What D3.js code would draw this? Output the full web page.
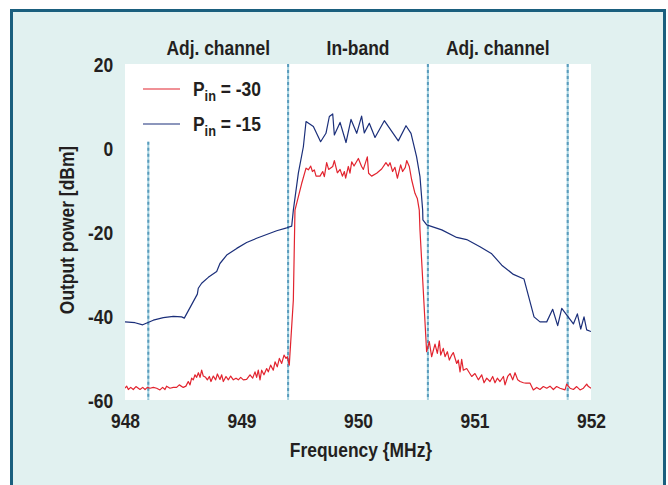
<!DOCTYPE html>
<html>
<head>
<meta charset="utf-8">
<script src="https://cdn.jsdelivr.net/npm/d3@7"></script>
<style>
  html, body { margin: 0; padding: 0; background: #ffffff; }
  svg text {
    font-family: "Liberation Sans Narrow", "Arial Narrow", "Liberation Sans", sans-serif;
    font-weight: bold;
    fill: #231f20;
  }
</style>
</head>
<body>
<svg id="chart" width="668" height="485"></svg>
<script>
var WIDTH = 668;
var HEIGHT = 485;
var PLOT = { left: 125, right: 591, top: 64, bottom: 400 };
var FONT_SIZE = 20.5;
var CONDENSE = 0.85; // the original type is a tall condensed grotesque

var X_TICKS = [948, 949, 950, 951, 952];
var Y_TICKS = [20, 0, -20, -40, -60];

// channel boundaries (MHz) and where each dashed line starts (dBm)
var BOUNDARIES = [948.2, 949.4, 950.6, 951.8];
var BOUNDARY_TOPS = [1.5, 20, 20, 20];

var REGION_NAMES = ['Adj. channel', 'In-band', 'Adj. channel'];
var REGION_CENTERS = [948.8, 950.0, 951.2];

var SERIES_PIN = ['-30', '-15'];
var SERIES_COLORS = ['#e2242f', '#1b2f7a'];

// Pin = -30
var redFreq = [
  948.000, 948.014, 948.029, 948.049, 948.071, 948.094, 948.129, 948.152, 948.172, 948.192,
  948.215, 948.243, 948.272, 948.300, 948.323, 948.343, 948.357, 948.386, 948.415, 948.443,
  948.466, 948.500, 948.523, 948.543, 948.558, 948.572, 948.586, 948.601, 948.615, 948.630,
  948.644, 948.658, 948.672, 948.692, 948.707, 948.724, 948.738, 948.758, 948.778, 948.793,
  948.815, 948.830, 948.844, 948.867, 948.887, 948.907, 948.930, 948.953, 948.973, 948.993,
  949.016, 949.044, 949.073, 949.096, 949.116, 949.130, 949.144, 949.159, 949.173, 949.193,
  949.216, 949.230, 949.250, 949.273, 949.288, 949.307, 949.325, 949.345, 949.365, 949.382,
  949.393, 949.410, 949.445, 949.459, 949.517, 949.554, 949.574, 949.594, 949.609, 949.625,
  949.640, 949.674, 949.697, 949.711, 949.731, 949.748, 949.783, 949.797, 949.823, 949.846,
  949.866, 949.883, 949.894, 949.917, 949.931, 949.946, 949.966, 950.003, 950.031, 950.046,
  950.080, 950.091, 950.117, 950.160, 950.203, 950.240, 950.260, 950.275, 950.297, 950.317,
  950.338, 950.366, 950.383, 950.406, 950.418, 950.440, 950.460, 950.489, 950.509, 950.526,
  950.532, 950.589, 950.612, 950.632, 950.661, 950.681, 950.698, 950.710, 950.732, 950.747,
  950.767, 950.784, 950.804, 950.818, 950.847, 950.861, 950.876, 950.890, 950.904, 950.933,
  950.976, 951.004, 951.033, 951.062, 951.082, 951.105, 951.133, 951.156, 951.176, 951.196,
  951.219, 951.248, 951.262, 951.285, 951.305, 951.328, 951.348, 951.371, 951.391, 951.420,
  951.442, 951.477, 951.505, 951.534, 951.562, 951.591, 951.620, 951.648, 951.677, 951.705,
  951.734, 951.777, 951.791, 951.820, 951.849, 951.877, 951.906, 951.935, 951.963, 951.978,
  952.000
];
var redDbm = [
  -57.2, -56.7, -57.5, -57.0, -57.5, -56.8, -57.5, -57.0, -57.5, -57.0,
  -57.2, -57.0, -57.2, -57.6, -57.0, -57.5, -56.7, -57.2, -57.0, -57.0,
  -56.4, -57.0, -56.7, -55.6, -56.4, -54.8, -55.2, -54.0, -54.6, -53.5,
  -54.6, -52.9, -54.3, -54.6, -55.2, -54.4, -55.6, -54.3, -55.2, -53.8,
  -55.1, -54.0, -55.6, -54.4, -55.2, -54.3, -55.2, -54.8, -55.2, -54.6,
  -55.2, -55.1, -54.0, -54.8, -53.3, -54.6, -52.9, -55.2, -52.9, -54.0,
  -52.5, -53.3, -51.7, -52.9, -50.9, -52.1, -50.1, -51.3, -49.3, -50.1,
  -49.7, -51.7, -36.2, -14.8, -8.4, -4.8, -5.2, -4.3, -5.6, -5.2,
  -6.7, -6.7, -5.6, -6.8, -3.5, -5.1, -4.4, -3.0, -5.9, -5.1,
  -6.7, -5.6, -7.2, -4.4, -6.0, -3.3, -4.3, -2.5, -4.4, -5.1,
  -2.1, -6.0, -6.7, -6.0, -5.0, -3.5, -4.3, -3.5, -5.6, -4.6,
  -7.2, -4.0, -5.6, -4.6, -3.0, -4.4, -7.5, -10.8, -12.0, -14.8,
  -19.5, -48.5, -46.1, -49.7, -46.7, -48.9, -45.9, -49.3, -47.7, -49.7,
  -48.5, -50.5, -49.3, -48.7, -51.3, -50.5, -53.3, -50.3, -52.9, -52.5,
  -54.4, -53.7, -55.2, -54.0, -55.9, -54.8, -55.6, -54.4, -55.9, -54.8,
  -55.6, -54.4, -56.4, -54.4, -53.7, -55.2, -53.5, -55.2, -55.6, -55.9,
  -56.0, -56.0, -57.6, -57.0, -57.5, -56.8, -57.2, -56.7, -57.5, -56.8,
  -57.2, -57.6, -56.2, -57.2, -57.5, -56.8, -57.6, -57.2, -56.2, -56.8,
  -57.2
];

// Pin = -15
var blueFreq = [
  948.000, 948.086, 948.152, 948.243, 948.329, 948.415, 948.486, 948.509, 948.621, 948.629,
  948.658, 948.715, 948.787, 948.815, 948.873, 948.959, 949.044, 949.130, 949.216, 949.302,
  949.388, 949.431, 949.445, 949.488, 949.531, 949.554, 949.617, 949.679, 949.725, 949.754,
  949.783, 949.797, 949.846, 949.897, 949.940, 949.989, 950.031, 950.054, 950.097, 950.146,
  950.226, 950.346, 950.412, 950.455, 950.503, 950.532, 950.555, 950.557, 950.590, 950.719,
  950.847, 950.933, 951.047, 951.148, 951.234, 951.334, 951.425, 951.511, 951.562, 951.620,
  951.671, 951.714, 951.749, 951.849, 951.883, 951.912, 951.940, 951.963, 952.000
];
var blueDbm = [
  -41.4, -41.6, -42.1, -41.0, -40.4, -40.1, -40.2, -40.5, -34.8, -33.4,
  -32.2, -30.8, -29.4, -27.5, -25.5, -23.9, -22.5, -21.5, -20.6, -19.7,
  -19.0, -18.6, -14.8, -6.0, 0.3, 6.3, 5.1, 1.5, 3.5, 7.5,
  8.1, 3.1, 6.1, 1.3, 6.8, 3.5, 7.6, 3.6, 5.9, 2.5,
  6.5, 1.7, 5.3, 3.5, -2.1, -6.8, -14.8, -17.1, -18.3, -19.5,
  -21.3, -21.8, -23.5, -25.2, -27.9, -30.1, -31.2, -40.2, -41.4, -41.4,
  -38.4, -42.3, -38.2, -41.9, -39.5, -43.1, -40.2, -43.3, -43.7
];

var svg = d3.select('#chart');

// place a text at (x, y), squeezed horizontally like the printed type
function placeText(sel, x, y, rotate) {
  return sel
    .attr('transform', 'translate(' + x + ', ' + y + ')' +
      (rotate ? ' rotate(' + rotate + ')' : '') +
      ' scale(' + CONDENSE + ', 1)')
    .attr('font-size', FONT_SIZE);
}

// panel background and frame
svg.append('rect')
  .attr('x', 0).attr('y', 0)
  .attr('width', WIDTH).attr('height', HEIGHT)
  .attr('fill', '#ffffff');

svg.append('rect')
  .attr('x', 11.5).attr('y', 10.5)
  .attr('width', 653).attr('height', 500)
  .attr('fill', '#e1f1f0')
  .attr('stroke', '#1a5f7e')
  .attr('stroke-width', 3);

var xScale = d3.scaleLinear().domain([948, 952]).range([PLOT.left, PLOT.right]);
var yScale = d3.scaleLinear().domain([-60, 20]).range([PLOT.bottom, PLOT.top]);

svg.append('rect')
  .attr('x', PLOT.left).attr('y', PLOT.top)
  .attr('width', PLOT.right - PLOT.left).attr('height', PLOT.bottom - PLOT.top)
  .attr('fill', '#ffffff');

svg.append('clipPath').attr('id', 'plot-clip')
  .append('rect')
  .attr('x', PLOT.left).attr('y', PLOT.top)
  .attr('width', PLOT.right - PLOT.left).attr('height', PLOT.bottom - PLOT.top);

// axes: labels only, no domain or tick marks; plain hyphen for minus
var xAxis = d3.axisBottom(xScale).tickValues(X_TICKS).tickFormat(d => String(d)).tickSize(0).tickPadding(13);
var yAxis = d3.axisLeft(yScale).tickValues(Y_TICKS).tickFormat(d => String(d)).tickSize(0).tickPadding(14);

var xAxisGroup = svg.append('g')
  .attr('transform', 'translate(0, ' + PLOT.bottom + ')')
  .call(xAxis);
var yAxisGroup = svg.append('g')
  .attr('transform', 'translate(' + PLOT.left + ', 0)')
  .call(yAxis);

[xAxisGroup, yAxisGroup].forEach(g => {
  g.select('.domain').remove();
  g.selectAll('text')
    .attr('font-size', FONT_SIZE)
    .attr('font-family', null)
    .attr('fill', '#231f20')
    .attr('transform', 'scale(' + CONDENSE + ', 1)');
});
xAxisGroup.selectAll('text').attr('dy', '0.71em');
yAxisGroup.selectAll('text').attr('dy', '0.36em');

// channel boundaries
var boundaryGroup = svg.append('g').attr('class', 'boundaries');
BOUNDARIES.forEach((f, i) => {
  boundaryGroup.append('line')
    .attr('x1', xScale(f)).attr('x2', xScale(f))
    .attr('y1', yScale(BOUNDARY_TOPS[i])).attr('y2', PLOT.bottom)
    .attr('stroke', '#a6d3e0')
    .attr('stroke-width', 2);
  boundaryGroup.append('line')
    .attr('x1', xScale(f)).attr('x2', xScale(f))
    .attr('y1', yScale(BOUNDARY_TOPS[i])).attr('y2', PLOT.bottom)
    .attr('stroke', '#5a9cbd')
    .attr('stroke-width', 2)
    .attr('stroke-dasharray', '3,3');
});

// traces
var line = d3.line()
  .x(d => xScale(d[0]))
  .y(d => yScale(d[1]));

var traces = [
  d3.zip(redFreq, redDbm),
  d3.zip(blueFreq, blueDbm)
];

svg.append('g')
  .attr('clip-path', 'url(#plot-clip)')
  .selectAll('path')
  .data(traces)
  .join('path')
  .attr('d', line)
  .attr('fill', 'none')
  .attr('stroke', (d, i) => SERIES_COLORS[i])
  .attr('stroke-width', 1.2)
  .attr('stroke-linejoin', 'round');

// region labels above the plot
REGION_NAMES.forEach((name, i) => {
  placeText(svg.append('text'), xScale(REGION_CENTERS[i]), 55)
    .attr('text-anchor', 'middle')
    .text(name);
});

// legend
var legend = svg.append('g').attr('class', 'legend');
SERIES_PIN.forEach((pin, i) => {
  var cy = 89 + i * 35;
  legend.append('line')
    .attr('x1', 143).attr('x2', 180)
    .attr('y1', cy).attr('y2', cy)
    .attr('stroke', SERIES_COLORS[i])
    .attr('stroke-width', 1.2);

  var label = placeText(legend.append('text'), 193, cy + 7);
  label.append('tspan').text('P');
  label.append('tspan').attr('font-size', 15).attr('dy', 5).text('in');
  label.append('tspan').attr('dy', -5).text(' = ' + pin);
});

// axis titles
placeText(svg.append('text'), 74, 230, -90)
  .attr('text-anchor', 'middle')
  .text('Output power [dBm]');

placeText(svg.append('text'), 361, 457)
  .attr('text-anchor', 'middle')
  .text('Frequency {MHz}');
</script>
</body>
</html>
